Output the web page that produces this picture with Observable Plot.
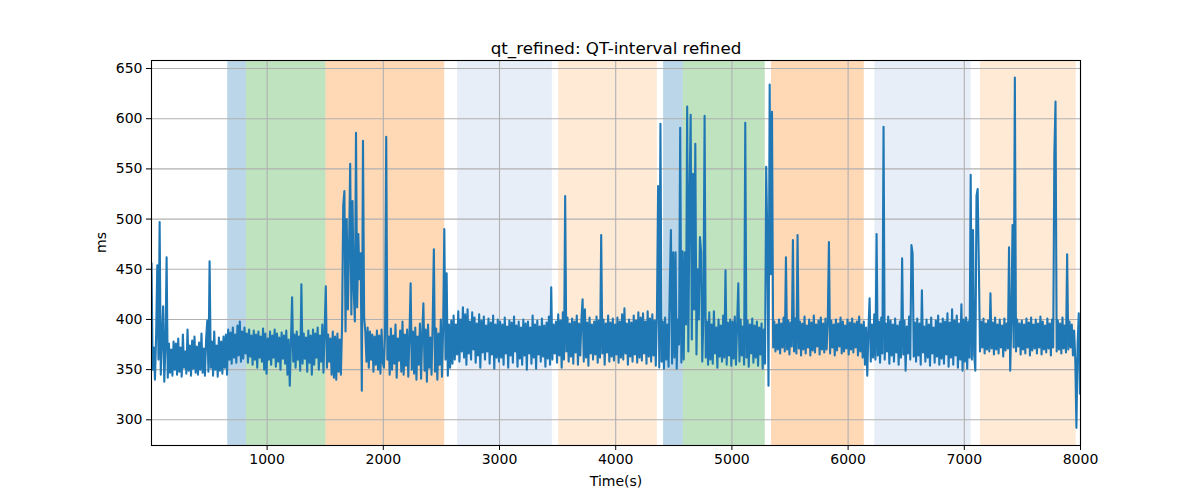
<!DOCTYPE html>
<html>
<head>
<meta charset="utf-8">
<script src="https://cdn.jsdelivr.net/npm/d3@7"></script>
<script src="https://cdn.jsdelivr.net/npm/@observablehq/plot@0.6"></script>
<style>
  html, body { margin: 0; padding: 0; background: white; }
</style>
</head>
<body>
<div id="chart"></div>
<script>
// ---- data -------------------------------------------------------------
const title = "qt_refined: QT-interval refined";
const xLabel = "Time(s)";
const yLabel = "ms";
const xTicks = [1000, 2000, 3000, 4000, 5000, 6000, 7000, 8000];
const yTicks = [300, 350, 400, 450, 500, 550, 600, 650];

// sampling of the series (seconds)
const tStart = 5;
const tStep = 10;

// QT values (ms), 100 samples per 1000 s
const q0 = [
  456,350,372,340,385,454,360,497,345,380,413,338,372,462,342,376,347,370,344,378,
  350,376,345,381,348,372,343,385,352,368,346,390,349,374,344,379,351,383,347,373,
  345,377,350,386,347,371,344,380,399,348,458,352,378,344,388,350,374,343,382,349,
  378,346,383,352,385,345,390,360,387,356,392,362,385,357,394,364,398,358,388,361,
  392,366,386,357,390,363,384,355,389,360,385,352,388,362,383,358,391,350,386,346];
const q1 = [
  381,360,388,355,384,362,390,353,386,358,382,350,387,361,384,356,389,345,380,334,
  377,422,358,385,352,388,360,383,349,435,356,386,361,382,348,389,357,384,345,390,
  355,386,362,392,350,384,358,395,347,390,433,352,385,358,381,345,388,342,383,340,
  386,348,380,345,395,513,528,388,500,410,470,555,405,518,430,398,586,412,485,440,
  466,329,578,402,388,358,392,352,388,360,385,348,383,355,389,350,384,346,390,357];
const q2 = [
  352,386,582,360,383,345,391,350,384,356,395,342,381,359,389,348,398,345,385,354,
  390,343,384,436,350,388,346,392,340,383,355,396,341,386,416,349,390,338,395,352,
  382,345,398,470,348,391,340,386,355,400,343,392,490,360,446,344,395,352,399,356,
  404,360,395,365,408,358,400,368,412,362,405,355,410,366,398,360,407,370,402,357,
  396,364,405,352,399,367,403,360,394,368,401,356,397,365,404,351,395,362,400,358];
const q3 = [
  398,362,395,355,402,366,393,352,399,364,397,357,403,368,394,353,398,361,392,355,
  400,364,396,350,398,366,392,356,404,362,395,351,399,365,393,358,401,363,394,353,
  397,361,403,355,432,360,395,366,398,357,405,364,399,352,407,360,523,368,402,358,
  396,363,401,356,398,367,404,355,396,364,400,420,358,410,362,397,354,402,366,395,
  360,398,365,403,357,399,362,484,366,400,355,396,367,404,358,397,363,401,359,395];
const q4 = [
  365,402,357,398,362,405,360,411,366,396,355,400,363,397,358,404,365,399,357,407,
  362,402,359,406,366,398,356,408,363,401,358,405,364,399,354,408,533,352,595,358,
  398,351,402,360,395,353,430,489,356,467,362,467,351,400,375,591,357,468,360,467,
  395,612,368,520,604,380,545,410,575,365,450,400,482,467,358,404,603,362,398,355,
  407,360,395,356,408,366,392,352,400,363,394,358,404,362,449,355,397,364,400,354];
const q5 = [
  398,361,403,355,396,436,358,400,364,393,355,596,362,399,353,395,366,401,357,394,
  362,398,354,392,365,396,351,390,356,552,480,334,634,445,607,372,398,368,395,370,
  400,366,396,372,402,368,462,370,399,365,397,373,479,368,401,366,484,371,398,364,
  396,370,403,366,394,372,400,364,397,369,404,367,395,373,399,365,402,370,396,367,
  401,370,397,477,366,399,372,395,364,400,369,396,373,402,366,398,368,394,371,400];
const q6 = [
  365,397,370,401,367,396,372,398,364,403,368,395,362,398,355,392,344,390,421,358,
  395,362,405,360,485,364,398,357,402,366,592,360,396,368,403,356,399,364,395,358,
  401,367,394,355,398,362,461,365,399,349,393,366,403,360,474,466,363,397,358,401,
  364,396,355,429,367,393,358,400,362,395,354,402,366,392,357,399,363,404,355,396,
  361,401,356,398,365,406,353,397,362,410,355,399,364,404,352,396,360,415,349,400];
const q7 = [
  358,402,351,398,362,544,360,489,365,349,523,530,455,368,398,372,401,366,396,370,
  399,368,426,371,397,365,402,370,395,366,400,372,394,363,401,369,396,371,472,349,
  398,494,372,641,368,400,373,396,365,399,370,395,366,401,372,397,364,402,369,395,
  371,400,366,396,372,403,365,398,370,394,367,401,371,396,364,400,372,564,617,368,
  399,370,396,366,402,371,394,367,465,370,398,372,395,364,389,360,292,375,406,326];

// shaded stage intervals (seconds)
const spanStart = [661, 822, 1507, 2640, 3509, 4412, 4582, 5341, 6230, 7139];
const spanEnd   = [822, 1507, 2528, 3455, 4358, 4582, 5287, 6139, 7059, 7963];
const spanKind  = ["A", "B", "C", "D", "E", "A", "B", "C", "D", "E"];
const kinds = ["A", "B", "C", "D", "E"];
const kindColors = ["#1f77b4", "#2ca02c", "#ff7f0e", "#aec7e8", "#ffbb78"];

// ---- build tables -------------------------------------------------------
const values = [...q0, ...q1, ...q2, ...q3, ...q4, ...q5, ...q6, ...q7];
const series = values.map((v, i) => ({t: tStart + i * tStep, v}));
const spans = spanStart.map((s, i) => ({x1: s, x2: spanEnd[i], kind: spanKind[i]}));

const font = "DejaVu Sans, Liberation Sans, sans-serif";

const chart = Plot.plot({
  width: 1200,
  height: 500,
  marginLeft: 151,
  marginRight: 120,
  marginTop: 60,
  marginBottom: 55,
  style: {fontFamily: font, fontSize: "14px", background: "white", color: "black"},
  x: {domain: [5, 8000]},
  y: {domain: [274.4, 658]},
  color: {domain: kinds, range: kindColors},
  marks: [
    Plot.rect(spans, {x1: "x1", x2: "x2", fill: "kind", fillOpacity: 0.3}),
    Plot.gridX(xTicks, {stroke: "#b0b0b0", strokeOpacity: 1, strokeWidth: 1.1}),
    Plot.gridY(yTicks, {stroke: "#b0b0b0", strokeOpacity: 1, strokeWidth: 1.1}),
    Plot.line(series, {x: "t", y: "v", stroke: "#1f77b4", strokeWidth: 2.1, clip: true}),
    Plot.axisX(xTicks, {tickSize: 5, tickPadding: 4, fontSize: 14, label: null, tickFormat: d => String(d)}),
    Plot.axisY(yTicks, {tickSize: 5, tickPadding: 4, fontSize: 14, label: null, tickFormat: d => String(d)}),
    Plot.frame({stroke: "black", strokeWidth: 1.1}),
    Plot.text([title], {frameAnchor: "top", dy: -7, lineAnchor: "bottom", fontSize: 16.7, fill: "black"}),
    Plot.text([xLabel], {frameAnchor: "bottom", dy: 36, lineAnchor: "middle", fontSize: 14, fill: "black"}),
    Plot.text([yLabel], {frameAnchor: "left", dx: -50, rotate: -90, lineAnchor: "middle", fontSize: 14, fill: "black"})
  ]
});

document.getElementById("chart").appendChild(chart);
</script>
</body>
</html>
